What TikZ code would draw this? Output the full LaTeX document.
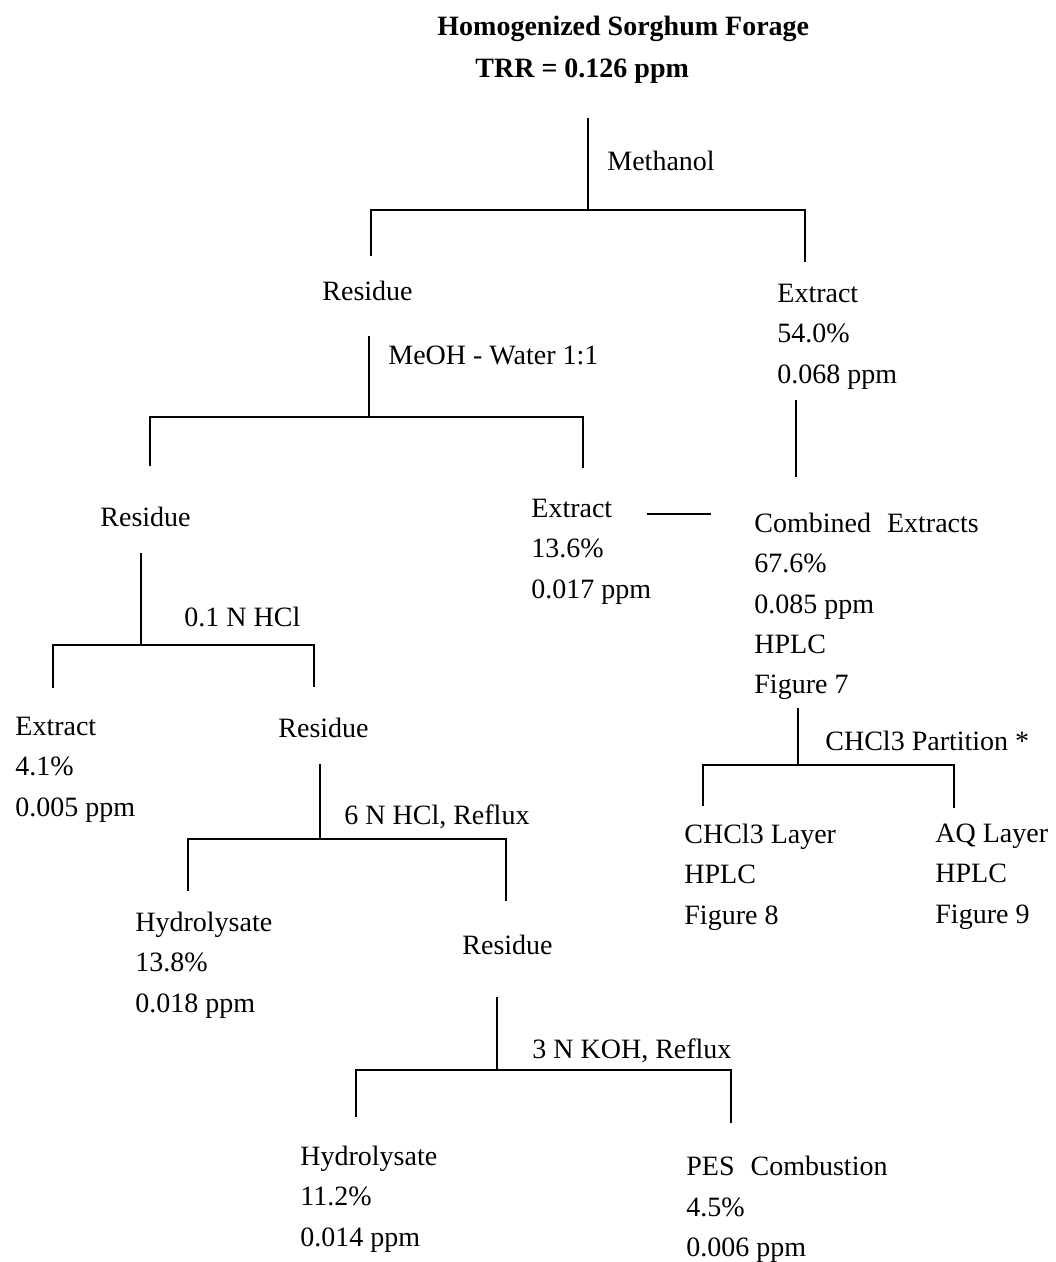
\documentclass[tikz,border=0pt]{standalone}
\usepackage{fontspec}
\setmainfont{Liberation Serif}
\begin{document}
\begin{tikzpicture}[x=0.5pt,y=-0.5pt,
    txt/.style={inner sep=0pt,anchor=north west,align=left,font=\fontsize{14}{20.2}\selectfont},
    stem/.style={line width=0.8pt},
    bar/.style={line width=1.4pt}]
    \useasboundingbox (0,0) rectangle (1055,1262);

    % Title
    \node[txt,font=\fontsize{14}{21}\selectfont\bfseries] (forage) at (437,15.5)
        {Homogenized Sorghum Forage\\\hspace{19pt}TRR = 0.126 ppm};

    % Step labels
    \node[txt] (methanol) at (607,150.5) {Methanol};
    \node[txt] (mewater) at (388,345.5) {MeOH - Water 1:1};
    \node[txt] (hclweak) at (184,606.5) {0.1 N HCl};
    \node[txt] (hclreflux) at (344,804.5) {6 N HCl, Reflux};
    \node[txt] (kohreflux) at (532,1038.5) {3 N KOH, Reflux};
    \node[txt] (partition) at (825,730.5) {CHCl3 Partition *};

    % Fractions
    \node[txt] (resA) at (322,280.5) {Residue};
    \node[txt] (extA) at (777,283.5) {Extract\\54.0\%\\0.068 ppm};
    \node[txt] (resB) at (100,506.5) {Residue};
    \node[txt] (extB) at (531,498.5) {Extract\\13.6\%\\0.017 ppm};
    \node[txt] (combined) at (754,512.5) {Combined\hspace{8pt}Extracts\\67.6\%\\0.085 ppm\\HPLC\\Figure 7};
    \node[txt] (extC) at (15,716.5) {Extract\\4.1\%\\0.005 ppm};
    \node[txt] (resC) at (278,717.5) {Residue};
    \node[txt] (hydA) at (135,911.5) {Hydrolysate\\13.8\%\\0.018 ppm};
    \node[txt] (resD) at (462,934.5) {Residue};
    \node[txt] (hydB) at (300,1145.5) {Hydrolysate\\11.2\%\\0.014 ppm};
    \node[txt] (pes) at (686,1156) {PES\hspace{8pt}Combustion\\4.5\%\\0.006 ppm};
    \node[txt] (chlayer) at (684,823.5) {CHCl3 Layer\\HPLC\\Figure 8};
    \node[txt] (aqlayer) at (935,823.5) {AQ Layer\\HPLC\\Figure 9};

    % Fork points
    \coordinate (forkA) at (588,118);  \coordinate (barA) at (588,210);
    \coordinate (dropAl) at (371,256); \coordinate (dropAr) at (805,262);
    \coordinate (forkB) at (369,336);  \coordinate (barB) at (369,417);
    \coordinate (dropBl) at (150,466); \coordinate (dropBr) at (583,468);
    \coordinate (forkC) at (141,553);  \coordinate (barC) at (141,645);
    \coordinate (dropCl) at (53,688);  \coordinate (dropCr) at (314,687);
    \coordinate (forkD) at (320,764);  \coordinate (barD) at (320,839);
    \coordinate (dropDl) at (188,891); \coordinate (dropDr) at (506,901);
    \coordinate (forkE) at (497,997);  \coordinate (barE) at (497,1070);
    \coordinate (dropEl) at (356,1117); \coordinate (dropEr) at (731,1123);
    \coordinate (forkF) at (798,708);  \coordinate (barF) at (798,765);
    \coordinate (dropFl) at (703,806); \coordinate (dropFr) at (954,808);
    \coordinate (joinT) at (796,400);  \coordinate (joinB) at (796,477);
    \coordinate (joinL) at (647,514);  \coordinate (joinR) at (711,514);

    % Stems and brackets
    \draw[stem] (forkA) -- (barA);
    \draw[bar] (dropAl) |- (dropAr |- barA) -- (dropAr);
    \draw[stem] (forkB) -- (barB);
    \draw[bar] (dropBl) |- (dropBr |- barB) -- (dropBr);
    \draw[stem] (forkC) -- (barC);
    \draw[bar] (dropCl) |- (dropCr |- barC) -- (dropCr);
    \draw[stem] (forkD) -- (barD);
    \draw[bar] (dropDl) |- (dropDr |- barD) -- (dropDr);
    \draw[stem] (forkE) -- (barE);
    \draw[bar] (dropEl) |- (dropEr |- barE) -- (dropEr);
    \draw[stem] (forkF) -- (barF);
    \draw[bar] (dropFl) |- (dropFr |- barF) -- (dropFr);

    % Extracts joined
    \draw[bar] (joinT) -- (joinB);
    \draw[bar] (joinL) -- (joinR);

\end{tikzpicture}
\end{document}
